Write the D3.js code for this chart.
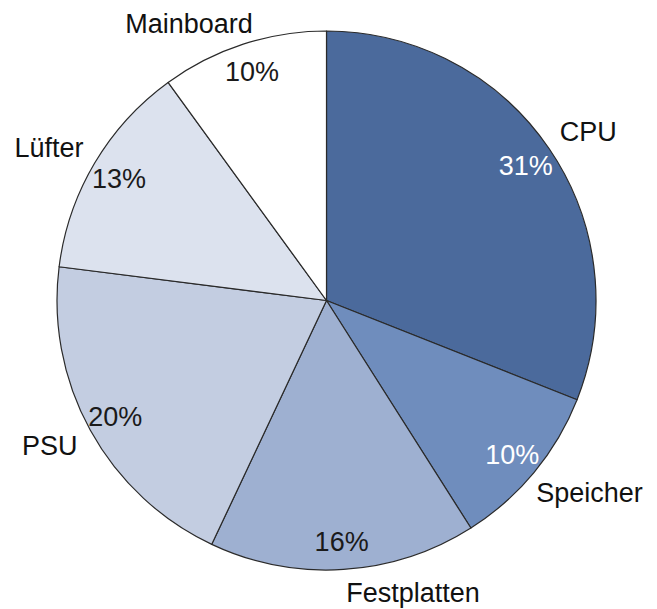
<!DOCTYPE html>
<html>
<head>
<meta charset="utf-8">
<script src="https://cdn.jsdelivr.net/npm/d3@7"></script>
<style>
  body { margin: 0; background: #fff; }
  text { font-family: "Liberation Sans", Arial, sans-serif; font-size: 27px; }
</style>
</head>
<body>
<script>
// chart data
var categories = ["CPU", "Speicher", "Festplatten", "PSU", "Lüfter", "Mainboard"];
var shares = [31, 10, 16, 20, 13, 10];
var sliceColors = ["#4b6a9c", "#6f8dbd", "#9eb0d1", "#c3cde1", "#dce2ee", "#ffffff"];
var pctColors = ["#ffffff", "#ffffff", "#1a1a1a", "#1a1a1a", "#1a1a1a", "#1a1a1a"];

var width = 657,
    height = 609;
var center = {x: 326.5, y: 300.5};
var radius = 269.5;

var svg = d3.select("body").append("svg")
    .attr("width", width)
    .attr("height", height);

var data = categories.map((c, i) => ({name: c, value: shares[i], color: sliceColors[i], pctColor: pctColors[i]}));

var pie = d3.pie()
    .sort(null)
    .value(d => d.value);

var arc = d3.arc()
    .innerRadius(0)
    .outerRadius(radius);

var pctArc = d3.arc()
    .innerRadius(241)
    .outerRadius(241);

var g = svg.append("g")
    .attr("transform", `translate(${center.x}, ${center.y})`);

var arcs = pie(data);

g.selectAll("path")
  .data(arcs)
  .enter().append("path")
    .attr("d", arc)
    .attr("fill", d => d.data.color)
    .attr("stroke", "#2a2a2a")
    .attr("stroke-width", 1.2)
    .attr("stroke-linejoin", "round");

// percentages inside the slices
g.selectAll("text.pct")
  .data(arcs)
  .enter().append("text")
    .attr("class", "pct")
    .attr("transform", d => `translate(${pctArc.centroid(d)})`)
    .attr("text-anchor", "middle")
    .attr("dy", "0.36em")
    .attr("fill", d => d.data.pctColor)
    .text(d => d.data.value + "%");

// category names outside, turned round the pie until they fit in the frame
var labelR = 288,
    boxH = 26,
    minY = 22.5 - center.y,
    maxY = 593 - center.y;

g.selectAll("text.name")
  .data(arcs)
  .enter().append("text")
    .attr("class", "name")
    .attr("text-anchor", "middle")
    .attr("dy", "0.36em")
    .attr("fill", "#111")
    .text(d => d.data.name)
    .each(function(d) {
      var w = this.getComputedTextLength();
      var a = (d.startAngle + d.endAngle) / 2;
      // step away from straight up / straight down
      var step = (Math.sin(a) >= 0 ? -1 : 1) * Math.PI / 360;
      if (Math.cos(a) > 0) step = -step;
      var pos = place(a, w);
      var n = 0;
      while ((pos[1] < minY || pos[1] > maxY) && n < 200) {
        a += step;
        pos = place(a, w);
        n++;
      }
      d3.select(this).attr("x", pos[0]).attr("y", pos[1]);
    });

function place(a, w) {
  var sx = Math.sin(a), sy = -Math.cos(a);
  return [labelR * sx + w / 2 * sx, labelR * sy + boxH / 2 * sy];
}
</script>
</body>
</html>
